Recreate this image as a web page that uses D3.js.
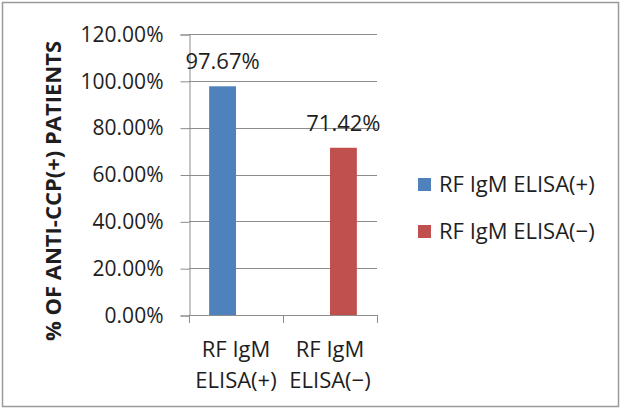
<!DOCTYPE html>
<html>
<head>
<meta charset="utf-8">
<script src="https://cdn.jsdelivr.net/npm/d3@7"></script>
<style>
  html, body { margin: 0; padding: 0; background: #fff; }
  svg { display: block; font-family: "Open Sans", sans-serif; }
</style>
</head>
<body>
<svg id="chart" width="622" height="410"></svg>
<script>
const categories = ["RF IgM ELISA(+)", "RF IgM ELISA(−)"];
const categoryLines = [["RF IgM", "ELISA(+)"], ["RF IgM", "ELISA(−)"]];
const seriesNames = ["RF IgM ELISA(+)", "RF IgM ELISA(−)"];
const seriesPos = [97.67, null];
const seriesNeg = [null, 71.42];
const seriesColors = ["#4F81BD", "#C0504D"];
const yTicks = [0, 0.2, 0.4, 0.6, 0.8, 1.0, 1.2];

const series = [
  { name: seriesNames[0], values: seriesPos, color: seriesColors[0] },
  { name: seriesNames[1], values: seriesNeg, color: seriesColors[1] }
];

const FONT = "'Open Sans', sans-serif";
const TXT = "#1e1e1e";
const svg = d3.select("#chart");
const plot = { left: 189, right: 377, top: 34, bottom: 315 };

// frame
svg.append("rect")
  .attr("x", 2.5).attr("y", 2.5).attr("width", 616).attr("height", 404)
  .attr("fill", "#fff").attr("stroke", "#9a9a9a").attr("stroke-width", 1.5);

const x = d3.scaleBand().domain(categories).range([plot.left, plot.right]).padding(0);
const x1 = d3.scaleBand().domain(seriesNames).range([0, x.bandwidth()]).paddingInner(0).paddingOuter(0.75);
const y = d3.scaleLinear().domain([0, 1.2]).range([plot.bottom, plot.top]);

// gridlines
svg.append("g").selectAll("line").data(yTicks).join("line")
  .attr("x1", plot.left).attr("x2", plot.right)
  .attr("y1", d => Math.round(y(d)) + 0.5).attr("y2", d => Math.round(y(d)) + 0.5)
  .attr("stroke", "#8c8c8c").attr("stroke-width", 1);

// y axis
const yAxis = d3.axisLeft(y).tickValues(yTicks).tickFormat(d3.format(".2%")).tickSize(9).tickPadding(17);
const gy = svg.append("g").attr("transform", `translate(${plot.left + 0.5},0.5)`).call(yAxis);
gy.select(".domain").attr("stroke", "#8c8c8c");
gy.selectAll(".tick line").attr("stroke", "#8c8c8c");
gy.selectAll(".tick text").attr("font-size", 21).attr("fill", TXT).attr("font-family", FONT);

// x axis baseline ticks at band boundaries
const boundaries = categories.map(c => x(c)).concat([x(categories[categories.length - 1]) + x.bandwidth()]);
svg.append("g").selectAll("line").data(boundaries).join("line")
  .attr("x1", d => Math.round(d) + 0.5).attr("x2", d => Math.round(d) + 0.5)
  .attr("y1", y(0)).attr("y2", y(0) + 8)
  .attr("stroke", "#8c8c8c");

// bars
const barData = [];
series.forEach(s => s.values.forEach((v, i) => {
  if (v !== null) barData.push({ cat: categories[i], series: s.name, value: v / 100, color: s.color });
}));
svg.append("g").selectAll("rect").data(barData).join("rect")
  .attr("x", d => x(d.cat) + x1(d.series))
  .attr("width", x1.bandwidth())
  .attr("y", d => y(d.value))
  .attr("height", d => y(0) - y(d.value))
  .attr("fill", d => d.color);

// data labels
svg.append("g").selectAll("text").data(barData).join("text")
  .attr("x", d => x(d.cat) + x1(d.series) + x1.bandwidth() / 2)
  .attr("y", d => y(d.value) - 17)
  .attr("text-anchor", "middle")
  .attr("font-size", 22).attr("fill", TXT).attr("font-family", FONT)
  .text(d => d3.format(".2f")(d.value * 100) + "%");

// category labels
const catG = svg.append("g").selectAll("text").data(categories).join("text")
  .attr("text-anchor", "middle").attr("font-size", 22).attr("fill", TXT).attr("font-family", FONT);
catG.each(function(c, i) {
  const t = d3.select(this);
  categoryLines[i].forEach((line, j) => {
    t.append("tspan").attr("x", x(c) + x.bandwidth() / 2).attr("y", 357 + j * 31).text(line);
  });
});

// y title
svg.append("text")
  .attr("transform", `translate(61,${(40 + 342) / 2}) rotate(-90)`)
  .attr("text-anchor", "middle").attr("font-size", 22).attr("font-weight", "bold")
  .attr("fill", TXT).attr("font-family", FONT)
  .text("% OF ANTI-CCP(+) PATIENTS");

// legend
const leg = svg.append("g").selectAll("g").data(series).join("g")
  .attr("transform", (d, i) => `translate(418,${178 + i * 47})`);
leg.append("rect").attr("width", 13).attr("height", 13).attr("fill", d => d.color);
leg.append("text").attr("x", 21).attr("y", 14).attr("font-size", 22)
  .attr("fill", TXT).attr("font-family", FONT).text(d => d.name);
</script>
</body>
</html>
